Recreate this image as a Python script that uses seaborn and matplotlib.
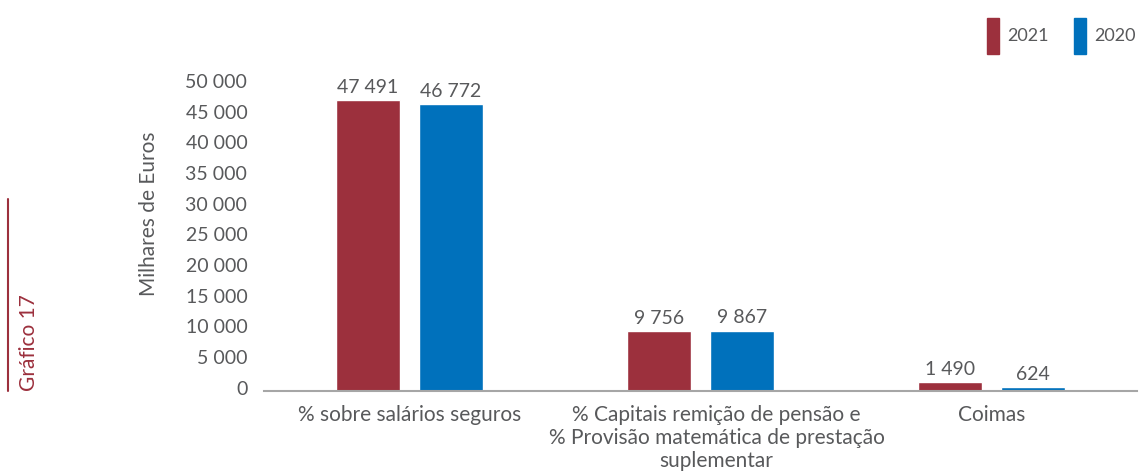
import matplotlib
matplotlib.use("Agg")
import matplotlib.pyplot as plt
import matplotlib.transforms as mtransforms
import seaborn as sns
import pandas as pd

categories = ["% sobre salários seguros",
              "% Capitais remição de pensão e\n% Provisão matemática de prestação\nsuplementar",
              "Coimas"]
series_names = ["2021", "2020"]
values_2021 = [47491, 9756, 1490]
values_2020 = [46772, 9867, 624]
yticks = [0, 5000, 10000, 15000, 20000, 25000, 30000, 35000, 40000, 45000, 50000]

RED = "#9C303D"
BLUE = "#0071BC"
TXT = "#58595B"

def fmt(v):
    return f"{v:,}".replace(",", " ")

sns.set_theme(style="white")
plt.rcParams["font.family"] = ["Lato", "DejaVu Sans"]

df = pd.DataFrame({
    "cat": categories * 2,
    "year": [series_names[0]] * 3 + [series_names[1]] * 3,
    "val": values_2021 + values_2020,
})

W, H = 1140, 473
fig = plt.figure(figsize=(11.4, 4.73), dpi=100)
ax = fig.add_axes([264 / W, 1 - 391 / H, 873 / W, (391 - 84.5) / H])
sns.barplot(data=df, x="cat", y="val", hue="year", palette=[RED, BLUE],
            width=0.57, gap=0.218, ax=ax, legend=False, saturation=1)

ax.set_ylim(0, 50000)
ax.set_xlim(-0.5, 2.5)
ax.set_yticks(yticks)
ax.set_yticklabels([fmt(v) for v in yticks], fontsize=14, color=TXT)
ax.tick_params(axis="y", length=0, pad=12)
ax.tick_params(axis="x", length=0, pad=10)
shift = mtransforms.ScaledTranslation(0, 3.5 / 100, fig.dpi_scale_trans)
for lbl in ax.get_yticklabels():
    lbl.set_transform(lbl.get_transform() + shift)
xshift = mtransforms.ScaledTranslation(16 / 100, 0, fig.dpi_scale_trans)
for i, lbl in enumerate(ax.get_xticklabels()):
    lbl.set_fontsize(15)
    lbl.set_color(TXT)
    lbl.set_linespacing(1.18)
    lbl.set_verticalalignment("top")
    if i == 1:
        lbl.set_transform(lbl.get_transform() + xshift)
ax.set_xlabel("")
ax.set_ylabel("")
for s in ["top", "right", "left"]:
    ax.spines[s].set_visible(False)
ax.spines["bottom"].set_color("#A6A6A6")
ax.spines["bottom"].set_linewidth(1.5)

for cont in ax.containers:
    ax.bar_label(cont, labels=[fmt(int(v)) for v in cont.datavalues],
                 fontsize=14, color=TXT, padding=3, clip_on=False)

# y axis title
fig.text(149 / W, 1 - 214 / H, "Milhares de Euros", rotation=90, fontsize=15,
         color=TXT, ha="center", va="center")

# legend
fig.patches.append(plt.Rectangle((987 / W, 1 - 54 / H), 12 / W, 36 / H,
                                 transform=fig.transFigure, color=RED))
fig.text(1007 / W, 1 - 36 / H, series_names[0], fontsize=13, color=TXT, va="center")
fig.patches.append(plt.Rectangle((1074 / W, 1 - 54 / H), 12 / W, 36 / H,
                                 transform=fig.transFigure, color=BLUE))
fig.text(1094 / W, 1 - 36 / H, series_names[1], fontsize=13, color=TXT, va="center")

# side label
fig.add_artist(plt.Line2D([8 / W, 8 / W], [1 - 391 / H, 1 - 199 / H],
                          transform=fig.transFigure, color=RED, linewidth=1.5))
fig.text(29 / W, 1 - 391 / H, "Gráfico 17", rotation=90, fontsize=15,
         color=RED, ha="center", va="bottom")

fig.savefig("out.png", dpi=100)
